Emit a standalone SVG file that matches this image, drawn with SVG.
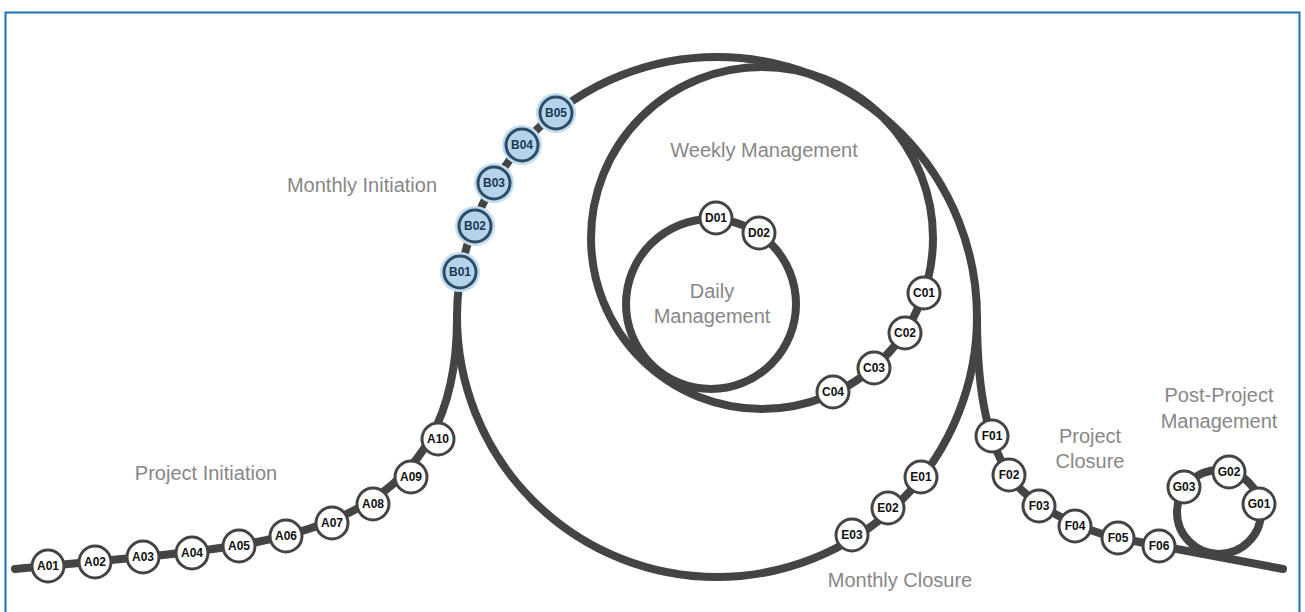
<svg xmlns="http://www.w3.org/2000/svg" width="1305" height="612" viewBox="0 0 1305 612">
<style>
.trk{fill:none;stroke:#444;stroke-width:8;stroke-linecap:round;stroke-linejoin:round}
.n{fill:#fff;stroke:#444;stroke-width:3}
.nb{fill:#b5d3eb;stroke:#2e4d64;stroke-width:3}
.halo{fill:#c2dcf0}
.t{font-family:"Liberation Sans",Arial,sans-serif;font-size:12px;font-weight:bold;fill:#111;text-anchor:middle}
.tb{fill:#1c3850}
.lbl{font-family:"Liberation Sans",Arial,sans-serif;font-size:20px;fill:#878787;text-anchor:middle}
</style>
<rect x="5.5" y="12.5" width="1294" height="640" fill="#fff" stroke="#1a72c2" stroke-width="2"/>
<g id="connectors">
<circle class="trk" cx="717" cy="317" r="260"/>
<circle class="trk" cx="762" cy="238" r="171"/>
<circle class="trk" cx="711" cy="304" r="85"/>
<circle class="trk" cx="1219" cy="512" r="42"/>
<path class="trk" d="M15,569 L143,557 C300,542 458,520 457,317"/>
<path class="trk" d="M977,317 C977,400 990,445 1009,475 C1028,505 1080,530 1118,538 L1283,569"/>
</g>
<g id="labels">
<text class="lbl" x="362" y="192">Monthly Initiation</text>
<text class="lbl" x="764" y="157">Weekly Management</text>
<text class="lbl" x="712" y="298">Daily</text>
<text class="lbl" x="712" y="323">Management</text>
<text class="lbl" x="206" y="480">Project Initiation</text>
<text class="lbl" x="900" y="587">Monthly Closure</text>
<text class="lbl" x="1090" y="443">Project</text>
<text class="lbl" x="1090" y="468">Closure</text>
<text class="lbl" x="1219" y="402">Post-Project</text>
<text class="lbl" x="1219" y="428">Management</text>
</g>
<g id="A01"><circle class="n" cx="48" cy="566" r="16"/><text class="t" x="48" y="570.3">A01</text></g>
<g id="A02"><circle class="n" cx="95" cy="562" r="16"/><text class="t" x="95" y="566.3">A02</text></g>
<g id="A03"><circle class="n" cx="143" cy="557" r="16"/><text class="t" x="143" y="561.3">A03</text></g>
<g id="A04"><circle class="n" cx="192" cy="553" r="16"/><text class="t" x="192" y="557.3">A04</text></g>
<g id="A05"><circle class="n" cx="239" cy="546" r="16"/><text class="t" x="239" y="550.3">A05</text></g>
<g id="A06"><circle class="n" cx="286" cy="536" r="16"/><text class="t" x="286" y="540.3">A06</text></g>
<g id="A07"><circle class="n" cx="332" cy="523" r="16"/><text class="t" x="332" y="527.3">A07</text></g>
<g id="A08"><circle class="n" cx="373" cy="504" r="16"/><text class="t" x="373" y="508.3">A08</text></g>
<g id="A09"><circle class="n" cx="411" cy="477" r="16"/><text class="t" x="411" y="481.3">A09</text></g>
<g id="A10"><circle class="n" cx="438" cy="439" r="16"/><text class="t" x="438" y="443.3">A10</text></g>
<g id="B01"><circle class="halo" cx="460" cy="272" r="20"/><circle class="nb" cx="460" cy="272" r="16"/><text class="t tb" x="460" y="276.3">B01</text></g>
<g id="B02"><circle class="halo" cx="475" cy="226" r="20"/><circle class="nb" cx="475" cy="226" r="16"/><text class="t tb" x="475" y="230.3">B02</text></g>
<g id="B03"><circle class="halo" cx="494" cy="183" r="20"/><circle class="nb" cx="494" cy="183" r="16"/><text class="t tb" x="494" y="187.3">B03</text></g>
<g id="B04"><circle class="halo" cx="522" cy="145" r="20"/><circle class="nb" cx="522" cy="145" r="16"/><text class="t tb" x="522" y="149.3">B04</text></g>
<g id="B05"><circle class="halo" cx="556" cy="113" r="20"/><circle class="nb" cx="556" cy="113" r="16"/><text class="t tb" x="556" y="117.3">B05</text></g>
<g id="C01"><circle class="n" cx="924" cy="293" r="16"/><text class="t" x="924" y="297.3">C01</text></g>
<g id="C02"><circle class="n" cx="905" cy="333" r="16"/><text class="t" x="905" y="337.3">C02</text></g>
<g id="C03"><circle class="n" cx="874" cy="368" r="16"/><text class="t" x="874" y="372.3">C03</text></g>
<g id="C04"><circle class="n" cx="833" cy="392" r="16"/><text class="t" x="833" y="396.3">C04</text></g>
<g id="D01"><circle class="n" cx="716" cy="218" r="16"/><text class="t" x="716" y="222.3">D01</text></g>
<g id="D02"><circle class="n" cx="759" cy="233" r="16"/><text class="t" x="759" y="237.3">D02</text></g>
<g id="E01"><circle class="n" cx="921" cy="477" r="16"/><text class="t" x="921" y="481.3">E01</text></g>
<g id="E02"><circle class="n" cx="888" cy="508" r="16"/><text class="t" x="888" y="512.3">E02</text></g>
<g id="E03"><circle class="n" cx="852" cy="535" r="16"/><text class="t" x="852" y="539.3">E03</text></g>
<g id="F01"><circle class="n" cx="992" cy="436" r="16"/><text class="t" x="992" y="440.3">F01</text></g>
<g id="F02"><circle class="n" cx="1009" cy="475" r="16"/><text class="t" x="1009" y="479.3">F02</text></g>
<g id="F03"><circle class="n" cx="1039" cy="506" r="16"/><text class="t" x="1039" y="510.3">F03</text></g>
<g id="F04"><circle class="n" cx="1075" cy="526" r="16"/><text class="t" x="1075" y="530.3">F04</text></g>
<g id="F05"><circle class="n" cx="1118" cy="538" r="16"/><text class="t" x="1118" y="542.3">F05</text></g>
<g id="F06"><circle class="n" cx="1159" cy="546" r="16"/><text class="t" x="1159" y="550.3">F06</text></g>
<g id="G01"><circle class="n" cx="1259" cy="504" r="16"/><text class="t" x="1259" y="508.3">G01</text></g>
<g id="G02"><circle class="n" cx="1229" cy="472" r="16"/><text class="t" x="1229" y="476.3">G02</text></g>
<g id="G03"><circle class="n" cx="1184" cy="487" r="16"/><text class="t" x="1184" y="491.3">G03</text></g>
</svg>
